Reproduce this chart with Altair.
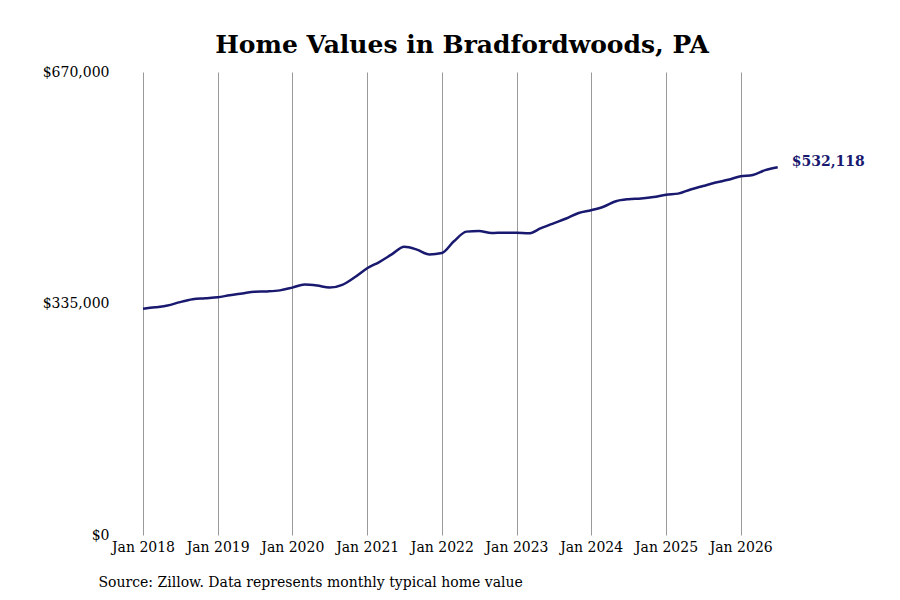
"""Zillow home value line chart for Bradfordwoods, PA."""

import altair as alt
import pandas as pd

FONT = "DejaVu Serif"
LINE_COLOR = "#191970"
GRID_COLOR = "#9a9a9a"

# bimonthly readings, Jan 2018 .. Jul 2026
MONTHS = pd.date_range("2018-01-01", "2026-07-01", freq="2MS")
HOME_VALUES = [
    327500, 329500, 332000, 337000, 341000, 342500,
    344000, 347000, 349500, 352000, 352500, 354000,
    358000, 362500, 361000, 358000, 362000, 373000,
    386000, 395000, 406000, 417000, 413000, 406000,
    408000, 425000, 439000, 440000, 437000, 437500,
    437500, 436500, 444000, 451000, 458000, 466000,
    470000, 475000, 483000, 486000, 487000, 489000,
    492500, 494000, 500000, 505000, 510000, 514000,
    519000, 521000, 528000, 532118,
]
TICK_YEARS = [2018, 2019, 2020, 2021, 2022, 2023, 2024, 2025, 2026]
Y_TICKS = [0, 335000, 670000]

frame = pd.DataFrame({"Month": MONTHS, "Value": HOME_VALUES})
last_point = frame.tail(1)

x = alt.X(
    "Month:T",
    scale=alt.Scale(
        domain=[
            alt.DateTime(year=2018, month=1, date=1),
            alt.DateTime(year=2026, month=12, date=1),
        ]
    ),
    axis=alt.Axis(
        values=[alt.DateTime(year=y, month=1, date=1) for y in TICK_YEARS],
        format="%b %Y",
        grid=True,
        gridColor=GRID_COLOR,
        gridWidth=1,
        domain=False,
        ticks=False,
        labelOverlap=False,
        labelFlush=False,
        labelPadding=5,
        labelFontSize=14,
        labelColor="black",
        title="Source: Zillow. Data represents monthly typical home value",
        titleAnchor="start",
        titleAlign="left",
        titleX=-45,
        titleY=40,
        titleFontSize=14,
        titleFontWeight="normal",
        titleColor="black",
    ),
)
y = alt.Y(
    "Value:Q",
    scale=alt.Scale(domain=[0, 670000], nice=False, zero=True),
    axis=alt.Axis(
        values=Y_TICKS,
        format="$,.0f",
        grid=False,
        domain=False,
        ticks=False,
        labelFlush=False,
        labelPadding=34,
        labelFontSize=14,
        labelColor="black",
        title=None,
    ),
)

base = alt.Chart(frame).encode(x=x, y=y)
line = base.mark_line(color=LINE_COLOR, strokeWidth=2.5, interpolate="monotone")
end_label = (
    alt.Chart(last_point)
    .mark_text(align="left", dx=14, dy=-5, fontSize=14, fontWeight="bold", color=LINE_COLOR)
    .encode(x=x, y=y, text=alt.Text("Value:Q", format="$,.0f"))
)

chart = (
    alt.layer(line, end_label)
    .properties(
        width=666,
        height=463,
        title=alt.TitleParams(
            "Home Values in Bradfordwoods, PA",
            fontSize=25,
            fontWeight="bold",
            font=FONT,
            color="black",
            offset=7,
            dx=-14,
        ),
        padding={"left": 34, "top": 25, "right": 5, "bottom": 5},
    )
    .configure(font=FONT)
    .configure_view(stroke=None)
)

chart.save("out.html", embed_options={"renderer": "svg", "actions": False})
